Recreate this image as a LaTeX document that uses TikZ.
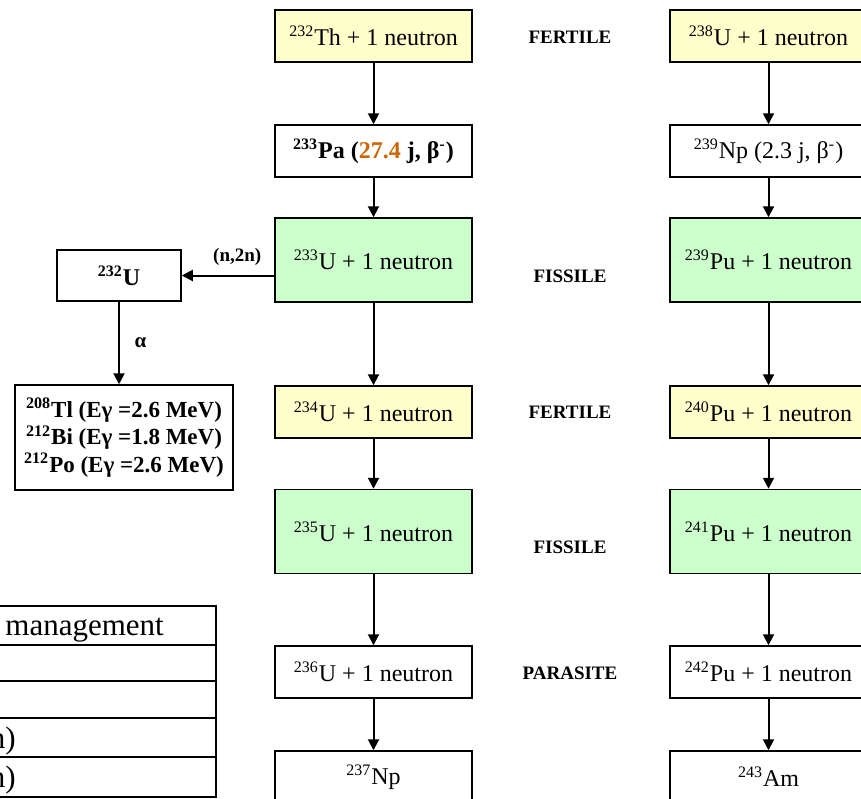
\documentclass[tikz,border=0pt]{standalone}
\usepackage{fontspec}
\setmainfont{Liberation Serif}
\usetikzlibrary{arrows.meta}

\definecolor{fertileyellow}{RGB}{255,255,204}
\definecolor{fissilegreen}{RGB}{204,255,204}
\definecolor{halforange}{RGB}{204,102,0}

\newcommand{\iso}[2]{\textsuperscript{#1}#2}

\tikzset{
	nuc/.style = {draw, line width = 0.75pt, minimum width = 98.5pt, minimum height = 26pt, inner sep = 0pt, font = \fontsize{12}{14}\selectfont},
	fertile/.style = {nuc, fill = fertileyellow},
	fissile/.style = {nuc, fill = fissilegreen, minimum height = 42pt},
	kind/.style = {font = \fontsize{9.5}{11}\selectfont\bfseries},
	chain/.style = {->, line width = 1pt}
}

\begin{document}
\begin{tikzpicture}[> = {Triangle[length = 5.5pt, width = 5.5pt]}, x = 0.5pt, y = -0.5pt]
\useasboundingbox (0, 0) rectangle (861, 798);
\clip (0, 0) rectangle (861, 798);

	% Thorium chain
	
	\node [fertile] (th232) at (373.5, 36) {\iso{232}{Th} + 1 neutron};
	\node [nuc, font = \fontsize{12}{14}\selectfont\bfseries] (pa233) at (373.5, 151) {\iso{233}{Pa} (\textcolor{halforange}{27.4} j, β\textsuperscript{-})};
	\node [fissile] (u233) at (373.5, 260) {\iso{233}{U} + 1 neutron};
	\node [fertile] (u234) at (373.5, 412) {\iso{234}{U} + 1 neutron};
	\node [fissile] (u235) at (373.5, 531.5) {\iso{235}{U} + 1 neutron};
	\node [nuc] (u236) at (373.5, 672) {\iso{236}{U} + 1 neutron};
	\node [nuc] (np237) at (373.5, 777) {\iso{237}{Np}};
	
	\draw [chain] (th232) -- (pa233);
	\draw [chain] (pa233) -- (u233);
	\draw [chain] (u233) -- (u234);
	\draw [chain] (u234) -- (u235);
	\draw [chain] (u235) -- (u236);
	\draw [chain] (u236) -- (np237);
	
	% Uranium chain
	
	\node [fertile] (u238) at (768.5, 36) {\iso{238}{U} + 1 neutron};
	\node [nuc] (np239) at (768.5, 151) {\iso{239}{Np} (2.3 j, β\textsuperscript{-})};
	\node [fissile] (pu239) at (768.5, 260) {\iso{239}{Pu} + 1 neutron};
	\node [fertile] (pu240) at (768.5, 412) {\iso{240}{Pu} + 1 neutron};
	\node [fissile] (pu241) at (768.5, 531.5) {\iso{241}{Pu} + 1 neutron};
	\node [nuc] (pu242) at (768.5, 672) {\iso{242}{Pu} + 1 neutron};
	\node [nuc] (am243) at (768.5, 777) {\iso{243}{Am}};
	
	\draw [chain] (u238) -- (np239);
	\draw [chain] (np239) -- (pu239);
	\draw [chain] (pu239) -- (pu240);
	\draw [chain] (pu240) -- (pu241);
	\draw [chain] (pu241) -- (pu242);
	\draw [chain] (pu242) -- (am243);
	
	% Kinds
	
	\node [kind] (k1) at (570, 37) {FERTILE};
	\node [kind] (k2) at (570, 276) {FISSILE};
	\node [kind] (k3) at (570, 412) {FERTILE};
	\node [kind] (k4) at (570, 547) {FISSILE};
	\node [kind] (k5) at (570, 673) {PARASITE};
	
	% U-232 branch
	
	\node [nuc, minimum width = 62pt, minimum height = 25.5pt, font = \fontsize{12}{14}\selectfont\bfseries] (u232) at (119, 275.5) {\iso{232}{U}};
	\node [nuc, minimum width = 109pt, minimum height = 52.5pt, align = center, font = \fontsize{11.5}{13.75}\selectfont\bfseries] (decay) at (124, 437.5)
		{\iso{208}{Tl} (Eγ =2.6 MeV)\\ \iso{212}{Bi} (Eγ =1.8 MeV)\\ \iso{212}{Po} (Eγ =2.6 MeV)};
	
	\draw [chain] (u233.west |- u232.east) -- node [kind, above, yshift = 1pt, pos = 0.4] {(n,2n)} (u232.east);
	\draw [chain] (u232.south) -- node [kind, right, xshift = 4pt, font = \fontsize{10.5}{12}\selectfont\bfseries] {α} (u232.south |- decay.north);
	
	% Table
	
	\foreach \ytop/\ybot in {606/645, 645/681, 681/718, 718/757, 757/797}
		\draw [line width = 1pt] (-20, \ytop) rectangle (216, \ybot);
	
	\node [anchor = west, inner sep = 0pt, font = \fontsize{15.5}{18}\selectfont] (mgmt) at (5, 630) {management};
	\node [anchor = east, inner sep = 0pt, font = \fontsize{15.5}{18}\selectfont] (row4) at (16, 741) {n)};
	\node [anchor = east, inner sep = 0pt, font = \fontsize{15.5}{18}\selectfont] (row5) at (16, 780) {n)};

\end{tikzpicture}
\end{document}
